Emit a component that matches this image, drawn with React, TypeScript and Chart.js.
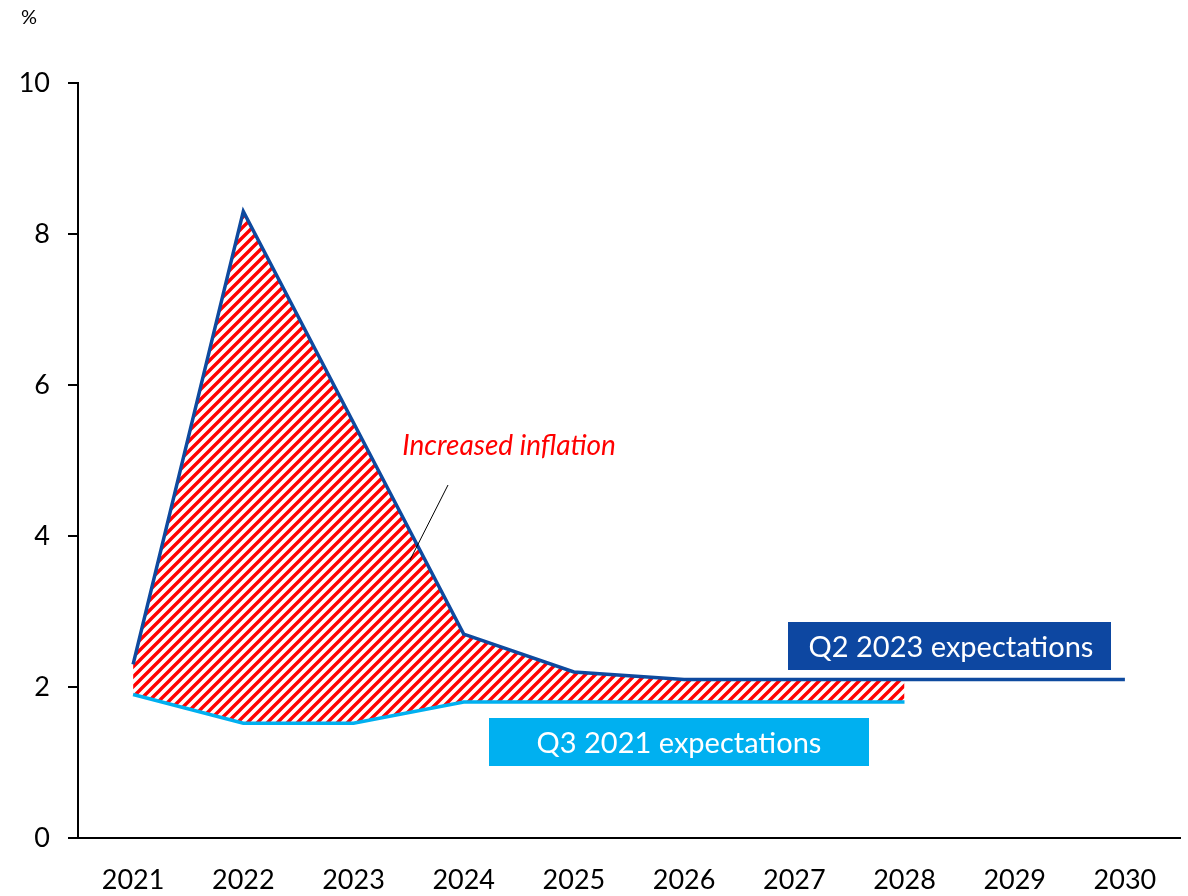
import React, { useEffect, useRef } from "react";
import { Chart, registerables } from "chart.js";

Chart.register(...registerables);

const years = ["2021", "2022", "2023", "2024", "2025", "2026", "2027", "2028", "2029", "2030"];
const q2_2023 = [2.3, 8.3, 5.5, 2.7, 2.2, 2.1, 2.1, 2.1, 2.1, 2.1];
const q3_2021 = [1.9, 1.52, 1.52, 1.8, 1.8, 1.8, 1.8, 1.8, null, null];
const gapTop = [2.3, 8.3, 5.5, 2.7, 2.2, 2.1, 2.1, 2.1, null, null];
const yTicks = [0, 2, 4, 6, 8, 10];

const DARK = "#0E4A9F";
const LIGHT = "#00B0F0";
const FONT = "Lato, 'Open Sans', sans-serif";

function makeHatch(): CanvasPattern | string {
  const c = document.createElement("canvas");
  c.width = 10;
  c.height = 10;
  const g = c.getContext("2d");
  if (!g) return "rgba(255,0,0,0.5)";
  g.strokeStyle = "#FF0000";
  g.lineWidth = 3.4;
  g.beginPath();
  g.moveTo(-2, 12);
  g.lineTo(12, -2);
  g.moveTo(-7, 7);
  g.lineTo(7, -7);
  g.moveTo(3, 17);
  g.lineTo(17, 3);
  g.stroke();
  const p = g.createPattern(c, "repeat");
  return p || "rgba(255,0,0,0.5)";
}

const annotations = {
  id: "annotations",
  afterDatasetsDraw(chart: any) {
    const ctx = chart.ctx;
    ctx.save();
    // % unit
    ctx.fillStyle = "#000";
    ctx.font = `20px ${FONT}`;
    ctx.textAlign = "left";
    ctx.textBaseline = "middle";
    ctx.fillText("%", 21, 18);

    // Increased inflation label
    ctx.fillStyle = "#FF0000";
    ctx.font = `italic 28px ${FONT}`;
    ctx.textAlign = "center";
    ctx.fillText("Increased inflation", 509, 446);
    ctx.strokeStyle = "#000";
    ctx.lineWidth = 1;
    ctx.beginPath();
    ctx.moveTo(448, 485);
    ctx.lineTo(410, 560);
    ctx.stroke();

    // Q2 box
    ctx.fillStyle = "#0D47A1";
    ctx.fillRect(788, 622, 323, 48);
    ctx.fillStyle = "#FFFFFF";
    ctx.font = `29px ${FONT}`;
    ctx.fillText("Q2 2023 expectations", 951, 648);

    // Q3 box
    ctx.fillStyle = LIGHT;
    ctx.fillRect(489, 718, 380, 48);
    ctx.fillStyle = "#FFFFFF";
    ctx.fillText("Q3 2021 expectations", 679, 744);
    ctx.restore();
  },
};

export default function App() {
  const ref = useRef<HTMLCanvasElement>(null);
  useEffect(() => {
    document.body.style.margin = "0";
    if (!ref.current) return;
    const hatch = makeHatch();
    const chart = new Chart(ref.current, {
      type: "line",
      data: {
        labels: years,
        datasets: [
          {
            label: "Q2 2023 expectations",
            data: q2_2023,
            borderColor: DARK,
            borderWidth: 3.5,
            pointRadius: 0,
            fill: false,
            order: 0,
            tension: 0,
          },
          {
            label: "Q3 2021 expectations",
            data: q3_2021,
            borderColor: LIGHT,
            borderWidth: 3.5,
            pointRadius: 0,
            fill: false,
            order: 1,
            tension: 0,
          },
          {
            label: "Increased inflation",
            data: gapTop,
            borderWidth: 0,
            borderColor: "rgba(0,0,0,0)",
            backgroundColor: hatch as any,
            pointRadius: 0,
            fill: 1,
            order: 2,
            tension: 0,
          },
        ],
      },
      options: {
        animation: false,
        responsive: false,
        layout: { padding: { top: 83, right: 8, left: 0, bottom: 0 } },
        plugins: {
          legend: { display: false },
          tooltip: { enabled: false },
          filler: { propagate: false },
        },
        scales: {
          x: {
            type: "category",
            offset: true,
            grid: { display: false, drawTicks: false },
            border: { display: true, color: "#000", width: 2 },
            ticks: {
              color: "#000",
              font: { family: FONT, size: 27 },
              padding: 26,
              maxRotation: 0,
              autoSkip: false,
            },
            afterFit(scale: any) {
              scale.height = 58;
            },
          },
          y: {
            min: 0,
            max: 10,
            afterBuildTicks(scale: any) {
              scale.ticks = yTicks.map((v) => ({ value: v }));
            },
            grid: {
              drawOnChartArea: false,
              drawTicks: true,
              tickLength: 10,
              color: "#000",
              lineWidth: 2,
            },
            border: { display: true, color: "#000", width: 2 },
            ticks: {
              color: "#000",
              font: { family: FONT, size: 27 },
              padding: 18,
            },
            afterFit(scale: any) {
              scale.width = 78;
            },
          },
        },
      },
      plugins: [annotations],
    });
    return () => chart.destroy();
  }, []);
  return (
    <div style={{ width: 1188, height: 896 }}>
      <canvas ref={ref} width={1188} height={896} style={{ display: "block" }} />
    </div>
  );
}
